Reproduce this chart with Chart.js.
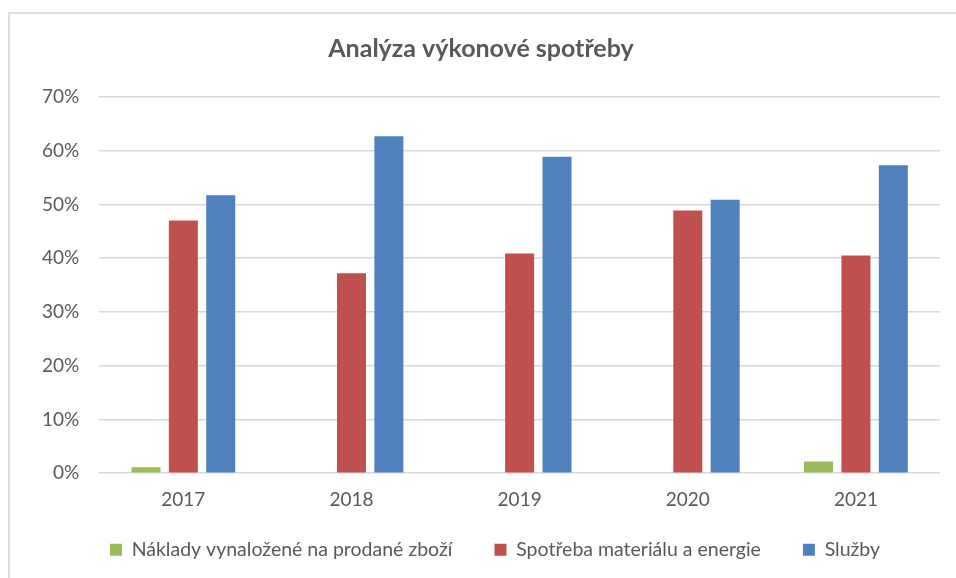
<!DOCTYPE html>
<html>
<head>
<meta charset="utf-8">
<script src="https://cdn.jsdelivr.net/npm/chart.js@4"></script>
<style>
  body { margin: 0; background: #fff; overflow: hidden; }
  #wrap { position: relative; width: 956px; height: 578px; overflow: hidden; }
  #frame { position: absolute; left: 8px; top: 12px; width: 960px; height: 600px; border: 2px solid #dedede; }
  canvas { position: absolute; left: 0; top: 0; }
</style>
</head>
<body>
<div id="wrap">
  <div id="frame"></div>
  <canvas id="chart" width="956" height="578"></canvas>
</div>
<script>
const years = ['2017', '2018', '2019', '2020', '2021'];
const zbozi = [1.1, 0, 0, 0, 2.2];
const material = [47.0, 37.2, 40.9, 48.9, 40.5];
const sluzby = [51.7, 62.7, 58.9, 50.9, 57.3];
const yTicks = [0, 10, 20, 30, 40, 50, 60, 70];

const ctx = document.getElementById('chart').getContext('2d');
Chart.defaults.font.family = 'Lato, "Noto Sans", sans-serif';
Chart.defaults.color = '#595959';

// legend padding is wide between items, so pull the legend box up after layout
const legendShift = {
    id: 'legendShift',
    afterLayout(chart) {
        const lg = chart.legend;
        lg.top = 498;
        lg.bottom = chart.height;
        lg.height = lg.bottom - lg.top;
        lg.left = 36;
        lg.right = 954;
    }
};

new Chart(ctx, {
    type: 'bar',
    data: {
        labels: years,
        datasets: [
            { label: 'Náklady vynaložené na prodané zboží', data: zbozi, backgroundColor: '#9bbb59' },
            { label: 'Spotřeba materiálu a energie', data: material, backgroundColor: '#c0504d' },
            { label: 'Služby', data: sluzby, backgroundColor: '#4f81bd' }
        ]
    },
    options: {
        responsive: false,
        animation: false,
        datasets: { bar: { categoryPercentage: 0.667, barPercentage: 0.776 } },
        layout: { padding: { left: 22, right: 16, top: 0, bottom: 8 } },
        plugins: {
            title: {
                display: true,
                text: 'Analýza výkonové spotřeby',
                font: { size: 25, weight: 'bold' },
                color: '#595959',
                padding: { top: 34, bottom: 33 }
            },
            legend: {
                position: 'bottom',
                maxHeight: 44,
                labels: { boxWidth: 12, boxHeight: 12, font: { size: 19.5 }, padding: 42, color: '#595959' }
            },
            tooltip: { enabled: false }
        },
        scales: {
            x: {
                grid: { display: false, drawTicks: false },
                border: { display: false },
                ticks: { font: { size: 19 }, padding: 15 }
            },
            y: {
                min: 0,
                max: 70,
                afterBuildTicks: axis => { axis.ticks = yTicks.map(v => ({ value: v })); },
                grid: { color: '#d9d9d9', lineWidth: 1.5, drawTicks: false },
                border: { display: false },
                ticks: { font: { size: 19 }, padding: 20, callback: v => v + '%' }
            }
        }
    },
    plugins: [legendShift]
});
</script>
</body>
</html>
